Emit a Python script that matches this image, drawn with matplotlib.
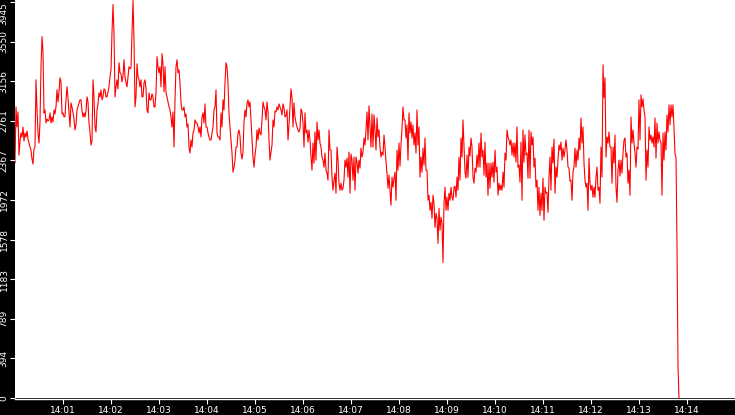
import matplotlib
matplotlib.use("Agg")
import matplotlib.pyplot as plt
import numpy as np

# axis labels as printed on the chart
y_top = 3945
y_labels = ["0", "394", "789", "1183", "1578", "1972", "2367", "2761", "3156", "3550", "3945"]
x_labels = ["14:01", "14:02", "14:03", "14:04", "14:05", "14:06", "14:07",
            "14:08", "14:09", "14:10", "14:11", "14:12", "14:13", "14:14"]

# readings per minute (14:00 .. 14:13), 48 samples a minute
m00 = [2340, 2900, 2700, 2850, 2420, 2560, 2640, 2600, 2700, 2560, 2640, 2600,
       2660, 2580, 2540, 2500, 2470, 2380, 2330, 2480, 2500, 3170, 2870, 2640,
       2540, 2750, 3300, 3600, 3450, 2840, 2870, 2740, 2780, 2760, 2770, 2840,
       2740, 2800, 2750, 2870, 2830, 2900, 3070, 2950, 3050, 3190, 3150, 2830]
m01 = [2840, 2800, 2805, 2970, 3100, 2990, 2840, 2700, 2940, 2900, 2840, 2780,
       2670, 2720, 2870, 2900, 2940, 2970, 2970, 2860, 2800, 2840, 2800, 2860,
       3000, 2950, 2740, 2650, 2520, 2560, 3170, 3000, 2700, 2650, 2870, 2930,
       3040, 3000, 3070, 2970, 3000, 3080, 3070, 3000, 3000, 3050, 3100, 3200]
m02 = [3270, 3640, 3920, 3640, 3000, 3100, 3170, 3080, 3340, 3240, 3230, 3150,
       3210, 3370, 3200, 3140, 3100, 3200, 3300, 3280, 3290, 3640, 3960, 3570,
       2900, 3000, 3330, 3200, 3170, 3100, 3170, 3000, 3000, 3140, 3170, 3080,
       2870, 2840, 3040, 2970, 2970, 3030, 3000, 2900, 2900, 3040, 3400, 3300]
m03 = [3240, 3300, 3100, 3430, 3330, 3050, 3300, 3040, 3000, 2950, 2900, 2870,
       2800, 2700, 2850, 2500, 2970, 3300, 3370, 3240, 3270, 3140, 2940, 2870,
       2870, 2900, 2800, 2830, 2700, 2730, 2500, 2440, 2570, 2500, 2640, 2670,
       2770, 2740, 2740, 2700, 2640, 2700, 2600, 2800, 2840, 2740, 2930, 2700]
m04 = [2700, 2640, 2600, 2570, 2570, 2640, 2700, 2870, 2900, 3070, 2640, 2600,
       2600, 2570, 2840, 2700, 2970, 2870, 3140, 3340, 3300, 3140, 2830, 2700,
       2570, 2440, 2250, 2300, 2370, 2500, 2500, 2640, 2670, 2610, 2440, 2380,
       2450, 2750, 2870, 2800, 2930, 2970, 2900, 2950, 2770, 2570, 2400, 2300]
m05 = [2420, 2500, 2670, 2570, 2690, 2640, 2620, 2770, 2950, 2900, 2870, 2770,
       2950, 2850, 2570, 2370, 2450, 2520, 2770, 2700, 2860, 2850, 2900, 2870,
       2930, 2900, 2870, 2820, 2930, 2890, 2800, 2810, 2870, 2570, 2720, 2900,
       3080, 2990, 2700, 2940, 2800, 2740, 2700, 2670, 2650, 2690, 2880, 2850]
m06 = [2740, 2500, 2840, 2640, 2670, 2550, 2670, 2570, 2400, 2270, 2540, 2340,
       2650, 2370, 2750, 2570, 2670, 2540, 2500, 2400, 2370, 2300, 2440, 2270,
       2240, 2170, 2670, 2470, 2470, 2200, 2070, 2170, 2240, 2040, 2500, 2370,
       2140, 2070, 2140, 2070, 2090, 2170, 2370, 2300, 2390, 2200, 2450, 2040]
m07 = [2430, 2370, 2170, 2400, 2070, 2400, 2350, 2240, 2370, 2290, 2490, 2400,
       2450, 2590, 2520, 2670, 2850, 2570, 2910, 2700, 2500, 2830, 2500, 2820,
       2670, 2470, 2790, 2600, 2670, 2500, 2400, 2450, 2420, 2620, 2500, 2350,
       2240, 2090, 2220, 2070, 1920, 2200, 2100, 2190, 2250, 1970, 2470, 2270]
m08 = [2540, 2310, 2520, 2690, 2900, 2770, 2770, 2590, 2720, 2370, 2840, 2640,
       2750, 2590, 2720, 2520, 2640, 2440, 2870, 2520, 2700, 2200, 2400, 2250,
       2490, 2320, 2590, 2270, 2270, 1970, 2020, 1870, 1950, 1790, 2020, 1940,
       1700, 1840, 1790, 1540, 1890, 1670, 1800, 1740, 1350, 1940, 2100, 1870]
m09 = [2000, 1870, 2040, 1970, 2100, 2000, 1970, 2100, 2110, 2000, 2200, 2070,
       2400, 2170, 2590, 2400, 2770, 2500, 2250, 2190, 2420, 2200, 2500, 2410,
       2590, 2500, 2200, 2140, 2290, 2250, 2420, 2300, 2540, 2300, 2640, 2400,
       2470, 2220, 2550, 2200, 2340, 2020, 2340, 2090, 2340, 2200, 2350, 2150]
m10 = [2470, 2250, 2300, 2020, 2140, 2070, 2120, 2070, 2250, 2100, 2440, 2370,
       2670, 2600, 2570, 2520, 2570, 2420, 2540, 2400, 2540, 2350, 2700, 2300,
       2320, 2150, 2550, 1970, 2670, 2350, 2620, 2420, 2440, 2190, 2670, 2190,
       2650, 2520, 2600, 2300, 2390, 2100, 2170, 1870, 2100, 1820, 2040, 1870]
m11 = [2190, 1770, 2100, 2040, 2050, 1850, 2200, 2400, 2070, 2500, 2340, 2580,
       2040, 2300, 2200, 2370, 2520, 2470, 2550, 2370, 2490, 2400, 2470, 2570,
       2470, 2300, 2290, 2160, 2170, 1970, 2250, 2300, 2490, 2300, 2470, 2370,
       2590, 2470, 2790, 2540, 2700, 2340, 2170, 2100, 2140, 1870, 2390, 2140]
m12 = [2070, 2120, 2000, 2100, 2000, 2200, 2300, 2070, 2100, 1940, 2500, 2200,
       3320, 2990, 3190, 2400, 2600, 2540, 2650, 2500, 2500, 2140, 2500, 2340,
       2620, 2100, 1950, 2270, 2370, 2210, 2370, 2240, 2440, 2570, 2590, 2400,
       2440, 2140, 2270, 2020, 2800, 2540, 2670, 2540, 2440, 2300, 2500, 2480]
m13 = [2970, 2570, 3020, 2900, 2980, 2870, 2800, 2170, 2470, 2300, 2700, 2570,
       2620, 2540, 2600, 2500, 2790, 2390, 2740, 2540, 2650, 2570, 2540, 2020,
       2640, 2370, 2650, 2470, 2820, 2650, 2920, 2720, 2920, 2800, 2920, 2690,
       2430, 2400, 1520, 320, 0]

minutes = [m00, m01, m02, m03, m04, m05, m06, m07, m08, m09, m10, m11, m12, m13]
per_min = 48

t, v = [], []
for i, vals in enumerate(minutes):
    for k, val in enumerate(vals):
        t.append(i + k / per_min)
        v.append(val)

fig = plt.figure(figsize=(7.35, 4.15), dpi=100, facecolor='black')
ax = fig.add_axes([15 / 735, 17 / 415, 720 / 735, 398 / 415])
ax.set_facecolor('white')

ax.plot(t, v, color='red', lw=0.8)

ax.set_xlim(0, 15)
ax.set_ylim(0, 3965)
ax.set_xticks(range(1, 15))
ax.set_xticklabels(x_labels)
ax.set_yticks(np.linspace(0, y_top, 11))
ax.set_yticklabels(y_labels, rotation=90, va='center')
ax.get_yticklabels()[-1].set_va('top')

ax.tick_params(colors='white', labelsize=6.5, length=3.4, width=0.8)
ax.tick_params(axis='y', pad=1.2)
ax.tick_params(axis='x', pad=1.2)

for side in ['top', 'right', 'left']:
    ax.spines[side].set_visible(False)
ax.spines['bottom'].set_color('white')
ax.spines['bottom'].set_linewidth(1.0)
ax.spines['bottom'].set_position(('outward', 1))

fig.savefig('out.png', dpi=100, facecolor='black')
